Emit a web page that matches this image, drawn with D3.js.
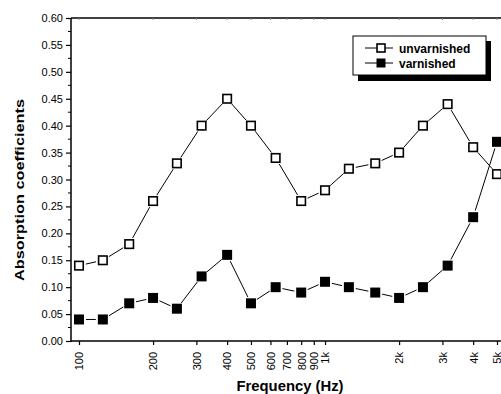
<!DOCTYPE html>
<html><head><meta charset="utf-8">
<script src="https://cdn.jsdelivr.net/npm/d3@7"></script>
<style>
html,body{margin:0;padding:0;background:#fff;}
svg{display:block;font-family:"Liberation Sans",Arial,sans-serif;}
</style></head>
<body><svg id="c" width="501" height="394"></svg>
<script>
const frequencies = [100,125,160,200,250,315,400,500,630,800,1000,1250,1600,2000,2500,3150,4000,5000];
const unvarnished = [0.14,0.15,0.18,0.26,0.33,0.40,0.45,0.40,0.34,0.26,0.28,0.32,0.33,0.35,0.40,0.44,0.36,0.31];
const varnished   = [0.04,0.04,0.07,0.08,0.06,0.12,0.16,0.07,0.10,0.09,0.11,0.10,0.09,0.08,0.10,0.14,0.23,0.37];
const xTickValues = [100,200,300,400,500,600,700,800,900,1000,2000,3000,4000,5000];
const xTickLabels = ["100","200","300","400","500","600","700","800","900","1k","2k","3k","4k","5k"];
const yTickValues = [0,0.05,0.10,0.15,0.20,0.25,0.30,0.35,0.40,0.45,0.50,0.55,0.60];
const seriesNames = ["unvarnished","varnished"];

(function(){
const svg = d3.select("#c");
const pL = 71, pT = 18, pB = 341, pR = 515;
const x = d3.scaleLog().domain([100,5000]).range([79,497]);
const y = d3.scaleLinear().domain([0,0.6]).range([pB,pT]);

svg.append("line").attr("x1",pL).attr("x2",pR).attr("y1",pT).attr("y2",pT)
  .attr("stroke","#000").attr("stroke-width",1.5);
svg.selectAll(".tt").data(xTickValues).enter().append("line")
  .attr("x1",d=>x(d)).attr("x2",d=>x(d)).attr("y1",pT).attr("y2",pT+2)
  .attr("stroke","#888").attr("stroke-width",1);

const yAxis = d3.axisLeft(y).tickValues(yTickValues).tickFormat(d3.format(".2f")).tickSize(5).tickPadding(3);
const gy = svg.append("g").attr("transform",`translate(${pL},0)`).call(yAxis);
gy.select(".domain").remove();
gy.selectAll(".tick line").attr("stroke-width",1.2);
gy.selectAll("text").attr("font-size",11).attr("fill","#000");
svg.append("line").attr("x1",pL).attr("x2",pL).attr("y1",pT).attr("y2",pB+1)
  .attr("stroke","#000").attr("stroke-width",1.5);
const yMinor = d3.range(0.025,0.6,0.05);
svg.selectAll(".ym").data(yMinor).enter().append("line")
  .attr("x1",pL-3).attr("x2",pL).attr("y1",d=>y(d)).attr("y2",d=>y(d))
  .attr("stroke","#000").attr("stroke-width",1);

const xAxis = d3.axisBottom(x).tickValues(xTickValues).tickFormat((d,i)=>xTickLabels[i]).tickSize(4).tickPadding(0);
const gx = svg.append("g").attr("transform",`translate(0,${pB})`).call(xAxis);
gx.select(".domain").remove();
gx.selectAll(".tick line").attr("stroke-width",1.2);
gx.selectAll("text").attr("font-size",11).attr("fill","#000")
  .attr("transform","rotate(-90)").attr("text-anchor","end")
  .attr("x",-11).attr("y",0).attr("dy","0.35em");
svg.append("line").attr("x1",pL).attr("x2",pR).attr("y1",pB).attr("y2",pB)
  .attr("stroke","#000").attr("stroke-width",1.5);

function drawSeries(vals, filled){
  const pts = frequencies.map((f,i)=>[x(f), y(vals[i])]);
  const gap = 7;
  const g = svg.append("g");
  for(let i=0;i<pts.length-1;i++){
    const [x1,y1]=pts[i],[x2,y2]=pts[i+1];
    const dx=x2-x1, dy=y2-y1, L=Math.hypot(dx,dy);
    if(L<=2*gap) continue;
    const ux=dx/L, uy=dy/L;
    g.append("line").attr("x1",x1+ux*gap).attr("y1",y1+uy*gap)
      .attr("x2",x2-ux*gap).attr("y2",y2-uy*gap)
      .attr("stroke","#000").attr("stroke-width",1);
  }
  const s = filled ? 10 : 8.5;
  g.selectAll("rect").data(pts).enter().append("rect")
    .attr("x",d=>d[0]-s/2).attr("y",d=>d[1]-s/2).attr("width",s).attr("height",s)
    .attr("fill",filled?"#000":"#fff").attr("stroke","#000").attr("stroke-width",filled?0:1.6);
}
drawSeries(unvarnished,false);
drawSeries(varnished,true);

const lg = svg.append("g");
lg.append("rect").attr("x",358).attr("y",41).attr("width",133).attr("height",40).attr("fill","#000");
lg.append("rect").attr("x",353).attr("y",36).attr("width",133).attr("height",39)
  .attr("fill","#fff").attr("stroke","#000").attr("stroke-width",1);
seriesNames.forEach((name,i)=>{
  const cy = 48 + i*15;
  lg.append("line").attr("x1",365).attr("x2",393).attr("y1",cy).attr("y2",cy).attr("stroke","#000").attr("stroke-width",1);
  const s = i===0?8:9;
  lg.append("rect").attr("x",381-s/2).attr("y",cy-s/2).attr("width",s).attr("height",s)
    .attr("fill",i===0?"#fff":"#000").attr("stroke","#000").attr("stroke-width",i===0?1.6:0);
  lg.append("text").attr("x",399).attr("y",cy+4.5).attr("font-size",12).attr("font-weight","bold").text(name);
});

svg.append("text").attr("x",290).attr("y",391).attr("text-anchor","middle")
  .attr("font-size",14).attr("font-weight","bold").attr("textLength",107).attr("lengthAdjust","spacingAndGlyphs")
  .text("Frequency (Hz)");
svg.append("text").attr("transform","translate(24,190) rotate(-90)").attr("text-anchor","middle")
  .attr("font-size",13).attr("font-weight","bold").attr("textLength",182).attr("lengthAdjust","spacingAndGlyphs")
  .text("Absorption coefficients");
})();
</script></body></html>
